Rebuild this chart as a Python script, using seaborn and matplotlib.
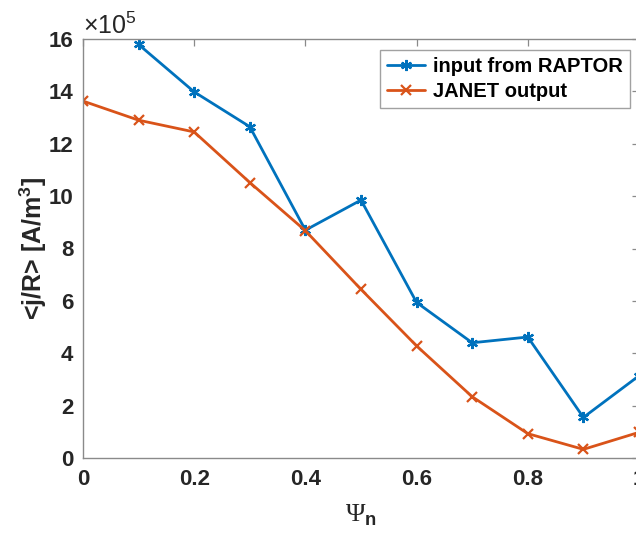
import matplotlib
matplotlib.use("Agg")
import matplotlib.pyplot as plt
from matplotlib import font_manager as fm
import seaborn as sns
import pandas as pd

# Flux-surface averaged current density, in units of 1e5 A/m^3
psi_raptor = [0.1, 0.2, 0.3, 0.4, 0.5, 0.6, 0.7, 0.8, 0.9, 1.0]
j_raptor = [15.79, 13.98, 12.65, 8.70, 9.85, 5.94, 4.40, 4.62, 1.55, 3.14]

psi_janet = [0.0, 0.1, 0.2, 0.3, 0.4, 0.5, 0.6, 0.7, 0.8, 0.9, 1.0]
j_janet = [13.63, 12.90, 12.45, 10.52, 8.68, 6.44, 4.28, 2.34, 0.93, 0.33, 0.98]

x_ticks = [0, 0.2, 0.4, 0.6, 0.8, 1.0]
x_tick_labels = ["0", "0.2", "0.4", "0.6", "0.8", "1"]
y_ticks = [0, 2, 4, 6, 8, 10, 12, 14, 16]

label_raptor = "input from RAPTOR"
label_janet = "JANET output"


def font_file(family, bold):
    """Pick the regular-width file of a family (skip Narrow variants)."""
    for f in fm.fontManager.ttflist:
        if f.name != family or "Narrow" in f.fname:
            continue
        is_bold = f.weight in ("bold", 700) or (isinstance(f.weight, int) and f.weight >= 600)
        if is_bold == bold and f.style == "normal":
            return f.fname
    return None


bold_path = font_file("Liberation Sans", True)
reg_path = font_file("Liberation Sans", False)


def fp(size, bold=True):
    path = bold_path if bold else reg_path
    if path:
        return fm.FontProperties(fname=path, size=size)
    return fm.FontProperties(family="DejaVu Sans", size=size,
                             weight="bold" if bold else "normal")


sns.set_style("white")
plt.rcParams["font.family"] = ["Liberation Sans", "DejaVu Sans"]
plt.rcParams["mathtext.fontset"] = "custom"
plt.rcParams["mathtext.rm"] = "Liberation Serif"
plt.rcParams["mathtext.bf"] = "Liberation Sans:bold"
plt.rcParams["mathtext.sf"] = "Liberation Sans"

blue = "#0072BD"
orange = "#D95319"
axis_gray = "#8a8a8a"
text_dark = "#262626"

df_r = pd.DataFrame({"psi": psi_raptor, "j": j_raptor})
df_j = pd.DataFrame({"psi": psi_janet, "j": j_janet})

fig = plt.figure(figsize=(6.36, 5.35), dpi=100)
ax = fig.add_axes([83 / 636, 77 / 535, 556 / 636, 419 / 535])

asterisk = (6, 2, 0)
sns.lineplot(data=df_r, x="psi", y="j", ax=ax, color=blue, lw=2.0,
             marker=asterisk, markersize=8, markeredgewidth=1.6,
             markeredgecolor=blue, label=label_raptor)
sns.lineplot(data=df_j, x="psi", y="j", ax=ax, color=orange, lw=2.0,
             marker="x", markersize=7, markeredgewidth=1.6,
             markeredgecolor=orange, label=label_janet)

ax.set_xlim(0, 1)
ax.set_ylim(0, 16)
ax.set_xticks(x_ticks)
ax.set_xticklabels(x_tick_labels)
ax.set_yticks(y_ticks)

for sp in ax.spines.values():
    sp.set_visible(True)
    sp.set_color(axis_gray)
    sp.set_linewidth(1.0)

ax.tick_params(axis="both", which="major", direction="in", length=5,
               width=0.9, color=axis_gray, top=True, right=True,
               labelcolor=text_dark)
ax.tick_params(axis="x", pad=8)
ax.tick_params(axis="y", pad=7)
for lab in ax.get_xticklabels() + ax.get_yticklabels():
    lab.set_fontproperties(fp(16))

ax.set_xlabel(r"$\mathrm{\Psi}_{\mathbf{n}}$", fontsize=19, color=text_dark,
              labelpad=9)
ax.set_ylabel(r"<j/R> [A/m$^{\mathbf{3}}$]", fontproperties=fp(18),
              color=text_dark, labelpad=0)

ax.text(0.0, 1.0, "×10$^{\\mathsf{5}}$", transform=ax.transAxes,
        fontproperties=fp(18, bold=False), color=text_dark,
        ha="left", va="bottom")

leg = ax.legend(loc="upper right",
                bbox_to_anchor=((630 - 83) / 556, 0.974),
                frameon=True, fancybox=False, prop=fp(14.5), handlelength=1.9,
                handletextpad=0.4, borderpad=0.35, labelspacing=0.3,
                borderaxespad=0.0)
leg.get_frame().set_edgecolor(axis_gray)
leg.get_frame().set_linewidth(1.0)
for t in leg.get_texts():
    t.set_color("black")

fig.savefig("out.png", dpi=100)
